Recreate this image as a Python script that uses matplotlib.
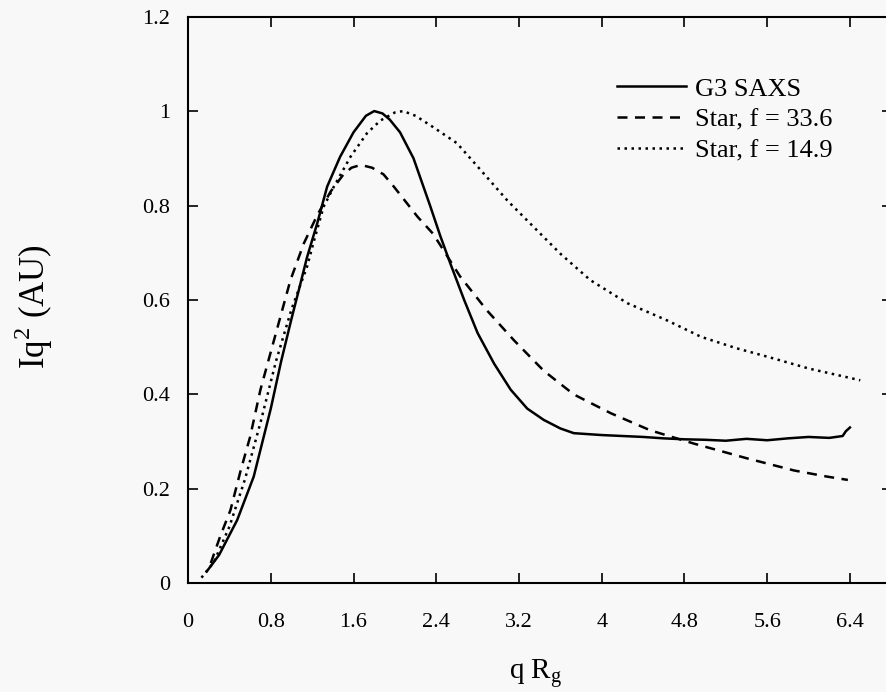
import matplotlib.pyplot as plt
import matplotlib

matplotlib.rc('font', family='Liberation Serif', size=16)

# G3 SAXS (measured)
saxs_q = [0.18, 0.3, 0.475, 0.635, 0.8, 0.9, 1.0, 1.07, 1.15, 1.25, 1.345, 1.47, 1.6, 1.72, 1.8,
          1.88, 1.95, 2.05, 2.18, 2.34, 2.44, 2.54, 2.67, 2.8, 2.96, 3.12, 3.28, 3.44, 3.6, 3.73,
          4.0, 4.2, 4.4, 4.6, 4.8, 5.0, 5.2, 5.4, 5.6, 5.8, 6.0, 6.2, 6.33, 6.36, 6.4]
saxs_i = [0.025, 0.06, 0.134, 0.226, 0.37, 0.47, 0.56, 0.62, 0.69, 0.763, 0.84, 0.903, 0.955, 0.99, 1.0,
          0.995, 0.982, 0.955, 0.9, 0.8, 0.735, 0.675, 0.6, 0.53, 0.465, 0.41, 0.37, 0.346, 0.328, 0.318,
          0.314, 0.312, 0.31, 0.307, 0.305, 0.304, 0.302, 0.306, 0.303, 0.307, 0.31, 0.308, 0.312, 0.322, 0.33]

# Star model, f = 33.6
star1_q = [0.22, 0.31, 0.41, 0.51, 0.6, 0.7, 0.8, 0.9, 0.99, 1.12, 1.25, 1.38, 1.5, 1.58, 1.67,
           1.78, 1.89, 1.99, 2.22, 2.37, 2.63, 2.89, 3.15, 3.44, 3.73, 4.09, 4.47, 4.89, 5.4, 5.86, 6.18, 6.38]
star1_i = [0.043, 0.099, 0.155, 0.24, 0.31, 0.41, 0.49, 0.57, 0.642, 0.72, 0.78, 0.83, 0.865, 0.88, 0.886,
           0.88, 0.866, 0.84, 0.776, 0.74, 0.65, 0.578, 0.515, 0.45, 0.40, 0.36, 0.324, 0.296, 0.265, 0.239, 0.226, 0.219]

# Star model, f = 14.9
star2_q = [0.13, 0.25, 0.4, 0.55, 0.7, 0.85, 1.0, 1.15, 1.22, 1.31, 1.41, 1.57, 1.73, 1.86, 2.0, 2.08,
           2.2, 2.37, 2.6, 2.83, 3.09, 3.34, 3.6, 3.89, 4.25, 4.63, 4.96, 5.3, 5.6, 6.0, 6.3, 6.5]
star2_i = [0.012, 0.045, 0.12, 0.22, 0.34, 0.47, 0.58, 0.67, 0.727, 0.797, 0.84, 0.903, 0.953, 0.98, 0.997, 1.0,
           0.99, 0.966, 0.932, 0.875, 0.81, 0.755, 0.698, 0.642, 0.593, 0.557, 0.522, 0.498, 0.48, 0.455, 0.44, 0.43]

xticks = [0, 0.8, 1.6, 2.4, 3.2, 4, 4.8, 5.6, 6.4]
xticklabels = ['0', '0.8', '1.6', '2.4', '3.2', '4', '4.8', '5.6', '6.4']
yticks = [0, 0.2, 0.4, 0.6, 0.8, 1, 1.2]
yticklabels = ['0', '0.2', '0.4', '0.6', '0.8', '1', '1.2']

fig = plt.figure(figsize=(8.87, 6.92), dpi=100, facecolor='#f8f8f8')
ax = fig.add_axes([0.212, 0.157, 0.794, 0.819])
ax.set_facecolor('#f8f8f8')

ax.plot(saxs_q, saxs_i, color='black', lw=1.8, label='G3 SAXS')
ax.plot(star1_q, star1_i, color='black', lw=1.8, linestyle=(0, (4, 3)), label='Star, f = 33.6')
ax.plot(star2_q, star2_i, color='black', lw=1.8, linestyle=(0, (1, 1.8)), label='Star, f = 14.9')

ax.set_xlim(0, 6.81)
ax.set_ylim(0, 1.2)
ax.set_xticks(xticks)
ax.set_xticklabels(xticklabels)
ax.set_yticks(yticks)
ax.set_yticklabels(yticklabels)
ax.tick_params(direction='in', length=7, width=1.2, top=True, right=True)
ax.tick_params(axis='x', pad=21)
ax.tick_params(axis='y', pad=13)
for sp in ax.spines.values():
    sp.set_linewidth(1.5)

ax.set_xlabel('q R$_\\mathregular{g}$', fontsize=21)
ax.xaxis.set_label_coords(0.493, -0.13)
ax.set_ylabel('Iq$^\\mathregular{2}$ (AU)', fontsize=25)
ax.yaxis.set_label_coords(-0.189, 0.488)

ax.legend(loc='upper left', bbox_to_anchor=(0.576, 0.935), frameon=False,
          handlelength=2.6, handletextpad=0.35, labelspacing=0.28, fontsize=19)

fig.savefig('out.png', dpi=100, facecolor=fig.get_facecolor())
